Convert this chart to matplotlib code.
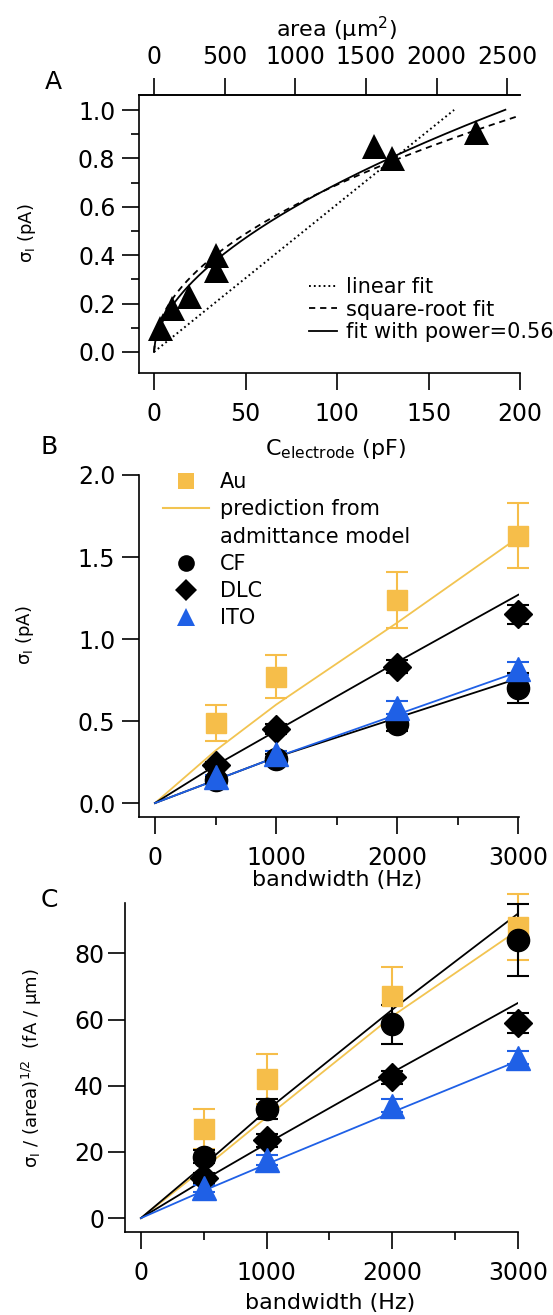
import matplotlib

matplotlib.use("Agg")
import matplotlib.pyplot as plt
import numpy as np
from matplotlib.lines import Line2D
from matplotlib.ticker import FormatStrFormatter, MultipleLocator

FIG_W, FIG_H = 553, 1315
DPI = 100

AU_COLOR = "#F6BE4A"
AU_LINE_COLOR = "#F2C451"
ITO_COLOR = "#1F60E6"

plt.rcParams["font.family"] = ["DejaVu Sans"]
plt.rcParams["mathtext.fontset"] = "dejavusans"
plt.rcParams["lines.scale_dashes"] = False

# panel A: noise vs electrode capacitance
capacitance_pf = [3.5, 10, 19, 34, 34, 120, 130, 176]
sigma_a = [0.10, 0.18, 0.23, 0.34, 0.40, 0.85, 0.80, 0.91]
linear_slope = 0.0061
linear_end_pf = 164
sqrt_coef = 0.0691
sqrt_end_pf = 200
power_coef = 0.0527
power_exp = 0.56
power_end_pf = 192
area_per_pf = 12.95
area_ticks = [0, 500, 1000, 1500, 2000, 2500]

# panels B and C: noise vs bandwidth
bandwidth = [500, 1000, 2000, 3000]
model_bandwidth = [0, 500, 1000, 2000, 3000]

au_b = [0.49, 0.77, 1.24, 1.63]
au_b_err = [0.11, 0.13, 0.17, 0.20]
cf_b = [0.14, 0.27, 0.48, 0.70]
cf_b_err = [0.02, 0.03, 0.04, 0.09]
dlc_b = [0.23, 0.45, 0.83, 1.15]
dlc_b_err = [0.02, 0.03, 0.04, 0.06]
ito_b = [0.16, 0.30, 0.58, 0.82]
ito_b_err = [0.01, 0.02, 0.04, 0.04]

au_b_model = [0, 0.32, 0.60, 1.10, 1.62]
cf_b_model = [0, 0.14, 0.28, 0.52, 0.76]
dlc_b_model = [0, 0.23, 0.44, 0.86, 1.27]
ito_b_model = [0, 0.14, 0.28, 0.54, 0.80]

au_c = [27, 42, 67, 88]
au_c_err = [6, 7.5, 9, 10]
cf_c = [18.5, 33, 58.5, 84]
cf_c_err = [2, 3, 6, 11]
dlc_c = [12, 23.5, 42.5, 59]
dlc_c_err = [1.5, 2, 2, 3]
ito_c = [9, 17.5, 34, 48.5]
ito_c_err = [1, 1.5, 2, 2]

au_c_model = [0, 15, 30.5, 61, 87]
cf_c_model = [0, 16, 32.5, 63, 92]
dlc_c_model = [0, 11.5, 22.5, 44, 65]
ito_c_model = [0, 8.3, 16.3, 32, 47.5]

TICK_SIZE = 17
LEGEND_SIZE = 15


def rect(left, top, right, bottom):
    return [left / FIG_W, 1 - bottom / FIG_H, (right - left) / FIG_W, (bottom - top) / FIG_H]


def put_text(fig, x, y, s, **kw):
    fig.text(x / FIG_W, 1 - y / FIG_H, s, ha="center", va="center", **kw)


def style_axes(ax, hidden):
    for side in hidden:
        ax.spines[side].set_visible(False)
    for spine in ax.spines.values():
        spine.set_linewidth(1.2)
    ax.tick_params(which="major", direction="out", length=12, width=1.2, labelsize=TICK_SIZE)
    ax.tick_params(which="minor", direction="out", length=6, width=1.2)


def bandwidth_panel(ax, sets, models):
    for ys, color in models:
        ax.plot(model_bandwidth, ys, color=color, lw=1.3, zorder=2)
    for ys, err, marker, ms, color in sets:
        ax.errorbar(bandwidth, ys, yerr=err, fmt=marker, ms=ms, mec=color, mfc=color,
                    color=color, ecolor=color, elinewidth=1.5, capsize=8, capthick=1.5,
                    zorder=3, clip_on=False)
    ax.xaxis.set_major_locator(MultipleLocator(1000))
    ax.xaxis.set_minor_locator(MultipleLocator(500))
    ax.tick_params(axis="x", pad=9)


fig = plt.figure(figsize=(FIG_W / DPI, FIG_H / DPI), dpi=DPI)

# ---- panel A
ax_a = fig.add_axes(rect(139, 95, 520, 373))
style_axes(ax_a, ["right"])
ax_a.set_xlim(-8.2, 200)
ax_a.set_ylim(-0.087, 1.062)
ax_a.plot(capacitance_pf, sigma_a, "^", color="black", ms=18, mew=0, clip_on=False, zorder=3)

c_lin = np.array([0, linear_end_pf])
ax_a.plot(c_lin, linear_slope * c_lin, color="black", lw=1.4, ls=(0, (1.3, 2.2)))
c_sqrt = np.linspace(0, sqrt_end_pf, 300)
ax_a.plot(c_sqrt, sqrt_coef * np.sqrt(c_sqrt), color="black", lw=1.3, ls=(0, (4.5, 3.5)))
c_pow = np.linspace(0, power_end_pf, 300)
ax_a.plot(c_pow, power_coef * c_pow ** power_exp, color="black", lw=1.3)

ax_a.set_xticks([0, 50, 100, 150, 200])
ax_a.yaxis.set_major_locator(MultipleLocator(0.2))
ax_a.yaxis.set_minor_locator(MultipleLocator(0.1))
ax_a.yaxis.set_major_formatter(FormatStrFormatter("%.1f"))
ax_a.tick_params(axis="x", pad=9)
ax_a.tick_params(axis="y", pad=5)
ax_a.tick_params(top=False)

sec = ax_a.secondary_xaxis("top", functions=(lambda c: c * area_per_pf, lambda a: a / area_per_pf))
sec.set_xticks(area_ticks)
sec.tick_params(direction="out", length=12, width=1.2, labelsize=TICK_SIZE, pad=7)
sec.spines["top"].set_linewidth(1.2)

handles_a = [
    Line2D([], [], color="black", lw=1.4, ls=(0, (1.3, 2.2))),
    Line2D([], [], color="black", lw=1.3, ls=(0, (4.5, 3.5))),
    Line2D([], [], color="black", lw=1.3),
]
ax_a.legend(handles_a, ["linear fit", "square-root fit", "fit with power=0.56"],
            loc="upper left", bbox_to_anchor=(309 / FIG_W, 1 - 277 / FIG_H),
            bbox_transform=fig.transFigure, frameon=False, fontsize=LEGEND_SIZE,
            handlelength=1.35, handletextpad=0.45, labelspacing=0.12,
            borderpad=0, borderaxespad=0)

put_text(fig, 53, 82, "A", fontsize=18)
put_text(fig, 337, 29, "area (μm$^2$)", fontsize=16)
put_text(fig, 27, 233, "σ$_\\mathrm{I}$ (pA)", fontsize=13, rotation=90)
put_text(fig, 336, 449, "C$_\\mathrm{electrode}$ (pF)", fontsize=16)

# ---- panel B
ax_b = fig.add_axes(rect(139, 475, 519, 817))
style_axes(ax_b, ["top", "right"])
ax_b.set_xlim(-132, 3005)
ax_b.set_ylim(-0.085, 2.0)
bandwidth_panel(
    ax_b,
    [(au_b, au_b_err, "s", 15, AU_COLOR), (cf_b, cf_b_err, "o", 16, "black"),
     (dlc_b, dlc_b_err, "D", 14, "black"), (ito_b, ito_b_err, "^", 17.5, ITO_COLOR)],
    [(au_b_model, AU_LINE_COLOR), (cf_b_model, "black"), (dlc_b_model, "black"),
     (ito_b_model, ITO_COLOR)],
)
ax_b.yaxis.set_major_locator(MultipleLocator(0.5))
ax_b.yaxis.set_major_formatter(FormatStrFormatter("%.1f"))
ax_b.tick_params(axis="y", pad=5)

handles_b = [
    Line2D([], [], ls="none", marker="s", ms=11.5, mew=0, color=AU_COLOR),
    Line2D([], [], color=AU_LINE_COLOR, lw=1.5),
    Line2D([], [], ls="none"),
    Line2D([], [], ls="none", marker="o", ms=12, mew=0, color="black"),
    Line2D([], [], ls="none", marker="D", ms=11, mew=0, color="black"),
    Line2D([], [], ls="none", marker="^", ms=13, mew=0, color=ITO_COLOR),
]
ax_b.legend(handles_b, ["Au", "prediction from", "admittance model", "CF", "DLC", "ITO"],
            loc="upper left", bbox_to_anchor=(163 / FIG_W, 1 - 472 / FIG_H),
            bbox_transform=fig.transFigure, frameon=False, fontsize=LEGEND_SIZE,
            handlelength=2.2, handletextpad=0.55, labelspacing=0.35,
            borderpad=0, borderaxespad=0)

put_text(fig, 49, 447, "B", fontsize=18)
put_text(fig, 25, 635, "σ$_\\mathrm{I}$ (pA)", fontsize=13, rotation=90)
put_text(fig, 337, 880, "bandwidth (Hz)", fontsize=16)

# ---- panel C
ax_c = fig.add_axes(rect(125, 903, 518, 1232))
style_axes(ax_c, ["top", "right"])
ax_c.set_xlim(-127, 3000)
ax_c.set_ylim(-4.2, 95.2)
bandwidth_panel(
    ax_c,
    [(au_c, au_c_err, "s", 15, AU_COLOR), (cf_c, cf_c_err, "o", 16, "black"),
     (dlc_c, dlc_c_err, "D", 14, "black"), (ito_c, ito_c_err, "^", 17.5, ITO_COLOR)],
    [(au_c_model, AU_LINE_COLOR), (cf_c_model, "black"), (dlc_c_model, "black"),
     (ito_c_model, ITO_COLOR)],
)
ax_c.yaxis.set_major_locator(MultipleLocator(20))
ax_c.tick_params(axis="y", pad=3)

put_text(fig, 49, 900, "C", fontsize=18)
put_text(fig, 32, 1068, "σ$_\\mathrm{I}$ / (area)$^{1/2}$  (fA / μm)", fontsize=13, rotation=90)
put_text(fig, 330, 1303, "bandwidth (Hz)", fontsize=16)

fig.savefig("out.png", dpi=DPI)
plt.close(fig)
